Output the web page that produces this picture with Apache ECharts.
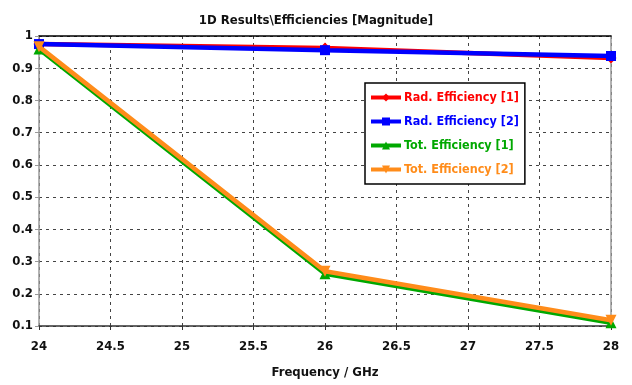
<!DOCTYPE html>
<html>
<head>
<meta charset="utf-8">
<script src="https://cdn.jsdelivr.net/npm/echarts@6/dist/echarts.min.js"></script>
<style>
  html, body { margin: 0; padding: 0; background: #fff; }
  #chart { width: 632px; height: 385px; }
</style>
</head>
<body>
<div id="chart"></div>
<script>
// Frequency points (GHz)
const freq = [24, 26, 28];
// Efficiencies (linear magnitude)
const radEff1 = [0.975, 0.963, 0.932];
const radEff2 = [0.975, 0.956, 0.938];
const totEff1 = [0.960, 0.262, 0.110];
const totEff2 = [0.967, 0.270, 0.118];

const seriesNames = ['Rad. Efficiency [1]', 'Rad. Efficiency [2]', 'Tot. Efficiency [1]', 'Tot. Efficiency [2]'];
const seriesColors = ['#ff0000', '#0000ff', '#00a800', '#ff8c1a'];
const seriesSymbols = ['diamond', 'rect', 'triangle', 'path://M0,0 L10,0 L5,10 Z'];
const seriesValues = [radEff1, radEff2, totEff1, totEff2];

const FONT = '"DejaVu Sans Condensed", "DejaVu Sans", sans-serif';

const chart = echarts.init(document.getElementById('chart'), null, { renderer: 'canvas' });

const series = seriesValues.map((vals, i) => ({
  name: seriesNames[i],
  type: 'line',
  data: freq.map((f, k) => [f, vals[k]]),
  symbol: seriesSymbols[i],
  symbolSize: i === 1 ? 10 : 11,
  showAllSymbol: true,
  lineStyle: { color: seriesColors[i], width: 4.5 },
  itemStyle: { color: seriesColors[i] },
  z: 2 + i,
  animation: false
}));

chart.setOption({
  animation: false,
  title: {
    text: '1D Results\\Efficiencies [Magnitude]',
    left: 'center',
    top: 9,
    textStyle: { fontFamily: FONT, fontSize: 13, fontWeight: 'bold', color: '#111' }
  },
  grid: { left: 39, right: 21, top: 36, bottom: 59 },
  legend: {
    orient: 'vertical',
    left: 365,
    top: 83,
    padding: [8, 6, 8, 4],
    itemGap: 11,
    itemWidth: 30,
    itemHeight: 10,
    backgroundColor: '#fff',
    borderColor: '#000',
    borderWidth: 1.5,
    lineStyle: { width: 4 },
    data: seriesNames.map((n, i) => ({ name: n, textStyle: { color: seriesColors[i] } })),
    textStyle: { fontFamily: FONT, fontSize: 12.5, fontWeight: 'bold', padding: [0, 0, 0, -2] }
  },
  xAxis: [{
    type: 'value',
    min: 24, max: 28, interval: 0.5,
    name: 'Frequency / GHz',
    nameLocation: 'middle',
    nameGap: 40,
    nameTextStyle: { fontFamily: FONT, fontSize: 13, fontWeight: 'bold', color: '#111' },
    axisLine: { onZero: false, lineStyle: { color: '#333', width: 1.5 } },
    axisTick: { show: true, length: 4, lineStyle: { color: '#333' } },
    axisLabel: { fontFamily: FONT, fontSize: 13, fontWeight: 'bold', color: '#111', margin: 14,
                 formatter: v => String(v) },
    splitLine: { show: true, lineStyle: { color: '#444', type: [3, 4], width: 1 } }
  }, {
    type: 'value', position: 'top',
    min: 24, max: 28, interval: 0.5,
    axisLine: { show: true, lineStyle: { color: '#000', width: 1.5 } },
    axisTick: { show: false }, axisLabel: { show: false }, splitLine: { show: false }
  }],
  yAxis: [{
    type: 'value',
    min: 0.1, max: 1, interval: 0.1,
    axisLine: { show: true, onZero: false, lineStyle: { color: '#999', width: 1.5 } },
    axisTick: { show: true, length: 4, lineStyle: { color: '#999' } },
    axisLabel: { fontFamily: FONT, fontSize: 13, fontWeight: 'bold', color: '#111', margin: 6,
                 formatter: v => String(Math.round(v * 10) / 10) },
    splitLine: { show: true, lineStyle: { color: '#444', type: [3, 4], width: 1 } }
  }, {
    type: 'value', position: 'right',
    min: 0.1, max: 1, interval: 0.1,
    axisLine: { show: true, lineStyle: { color: '#999', width: 1.5 } },
    axisTick: { show: false }, axisLabel: { show: false }, splitLine: { show: false }
  }],
  series: series
});
</script>
</body>
</html>
